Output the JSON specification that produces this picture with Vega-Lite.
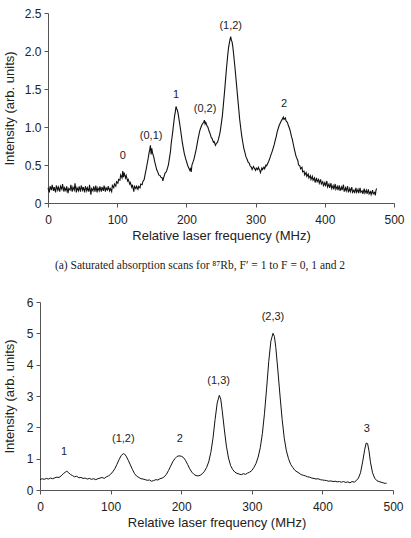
{
  "$schema": "https://vega.github.io/schema/vega-lite/v6.json",
  "padding": {"left": 3, "top": 7, "right": 5, "bottom": 5},
  "background": "white",
  "config": {
    "view": {"stroke": null},
    "axis": {
      "grid": false,
      "labelFont": "Liberation Sans",
      "labelFontSize": 12,
      "labelColor": "#222",
      "labelOverlap": false,
      "labelFlush": false,
      "titleFont": "Liberation Sans",
      "titleFontSize": 13,
      "titleFontWeight": "normal",
      "titleColor": "#222",
      "domainColor": "#555",
      "tickColor": "#555",
      "tickSize": 4,
      "tickCount": 20,
      "labelPadding": 3
    }
  },
  "datasets": {
    "top": [
      {"x":0,"y":0.20},{"x":2,"y":0.14},{"x":3,"y":0.22},{"x":5,"y":0.17},{"x":6,"y":0.24},{"x":8,"y":0.16},{"x":9,"y":0.21},{"x":11,"y":0.14},{"x":12,"y":0.23},{"x":14,"y":0.17},{"x":15,"y":0.21},{"x":17,"y":0.15},{"x":18,"y":0.22},{"x":20,"y":0.18},{"x":21,"y":0.25},{"x":23,"y":0.15},{"x":24,"y":0.20},{"x":26,"y":0.16},{"x":27,"y":0.22},{"x":29,"y":0.13},{"x":30,"y":0.19},{"x":32,"y":0.17},{"x":33,"y":0.24},{"x":35,"y":0.15},{"x":36,"y":0.21},{"x":38,"y":0.17},{"x":39,"y":0.26},{"x":41,"y":0.14},{"x":42,"y":0.20},{"x":44,"y":0.16},{"x":45,"y":0.22},{"x":47,"y":0.15},{"x":48,"y":0.23},{"x":50,"y":0.17},{"x":51,"y":0.21},{"x":53,"y":0.14},{"x":54,"y":0.22},{"x":56,"y":0.16},{"x":57,"y":0.20},{"x":59,"y":0.15},{"x":60,"y":0.24},{"x":62,"y":0.11},{"x":63,"y":0.19},{"x":65,"y":0.16},{"x":66,"y":0.22},{"x":68,"y":0.15},{"x":69,"y":0.23},{"x":71,"y":0.14},{"x":72,"y":0.20},{"x":74,"y":0.16},{"x":75,"y":0.22},{"x":77,"y":0.15},{"x":78,"y":0.21},{"x":80,"y":0.16},{"x":81,"y":0.23},{"x":83,"y":0.15},{"x":84,"y":0.20},{"x":86,"y":0.17},{"x":87,"y":0.22},{"x":89,"y":0.16},{"x":90,"y":0.19},{"x":92,"y":0.15},{"x":93,"y":0.23},{"x":95,"y":0.20},{"x":96,"y":0.25},{"x":98,"y":0.22},{"x":99,"y":0.28},{"x":101,"y":0.26},{"x":102,"y":0.31},{"x":104,"y":0.30},{"x":105,"y":0.37},{"x":107,"y":0.33},{"x":108,"y":0.42},{"x":109,"y":0.34},{"x":110,"y":0.40},{"x":112,"y":0.33},{"x":113,"y":0.36},{"x":115,"y":0.29},{"x":116,"y":0.31},{"x":118,"y":0.25},{"x":119,"y":0.27},{"x":121,"y":0.21},{"x":122,"y":0.24},{"x":124,"y":0.15},{"x":125,"y":0.22},{"x":127,"y":0.19},{"x":128,"y":0.22},{"x":130,"y":0.18},{"x":131,"y":0.22},{"x":133,"y":0.20},{"x":134,"y":0.25},{"x":136,"y":0.24},{"x":137,"y":0.28},{"x":139,"y":0.31},{"x":140,"y":0.36},{"x":142,"y":0.45},{"x":143,"y":0.50},{"x":145,"y":0.60},{"x":146,"y":0.66},{"x":147,"y":0.70},{"x":148,"y":0.76},{"x":149,"y":0.64},{"x":150,"y":0.72},{"x":151,"y":0.66},{"x":153,"y":0.60},{"x":154,"y":0.55},{"x":156,"y":0.48},{"x":157,"y":0.44},{"x":159,"y":0.40},{"x":160,"y":0.37},{"x":162,"y":0.36},{"x":163,"y":0.34},{"x":165,"y":0.33},{"x":166,"y":0.29},{"x":168,"y":0.36},{"x":169,"y":0.39},{"x":171,"y":0.41},{"x":172,"y":0.44},{"x":174,"y":0.50},{"x":175,"y":0.56},{"x":177,"y":0.68},{"x":178,"y":0.78},{"x":180,"y":0.92},{"x":181,"y":1.00},{"x":183,"y":1.15},{"x":184,"y":1.20},{"x":185,"y":1.27},{"x":186,"y":1.24},{"x":187,"y":1.22},{"x":188,"y":1.18},{"x":190,"y":1.06},{"x":191,"y":1.00},{"x":193,"y":0.87},{"x":194,"y":0.80},{"x":196,"y":0.70},{"x":197,"y":0.65},{"x":199,"y":0.58},{"x":200,"y":0.55},{"x":202,"y":0.49},{"x":203,"y":0.47},{"x":205,"y":0.43},{"x":206,"y":0.45},{"x":207,"y":0.41},{"x":208,"y":0.50},{"x":210,"y":0.55},{"x":211,"y":0.58},{"x":213,"y":0.66},{"x":214,"y":0.70},{"x":216,"y":0.80},{"x":217,"y":0.85},{"x":219,"y":0.94},{"x":220,"y":0.97},{"x":222,"y":1.02},{"x":223,"y":1.04},{"x":225,"y":1.06},{"x":226,"y":1.09},{"x":227,"y":1.04},{"x":228,"y":1.06},{"x":230,"y":1.01},{"x":231,"y":1.00},{"x":233,"y":0.94},{"x":234,"y":0.92},{"x":236,"y":0.86},{"x":237,"y":0.85},{"x":239,"y":0.80},{"x":240,"y":0.81},{"x":242,"y":0.76},{"x":243,"y":0.78},{"x":245,"y":0.80},{"x":246,"y":0.83},{"x":248,"y":0.90},{"x":249,"y":0.95},{"x":251,"y":1.08},{"x":252,"y":1.15},{"x":254,"y":1.35},{"x":255,"y":1.45},{"x":257,"y":1.67},{"x":258,"y":1.78},{"x":260,"y":1.97},{"x":261,"y":2.05},{"x":263,"y":2.15},{"x":264,"y":2.19},{"x":265,"y":2.14},{"x":266,"y":2.12},{"x":267,"y":2.06},{"x":268,"y":1.98},{"x":270,"y":1.80},{"x":271,"y":1.70},{"x":273,"y":1.50},{"x":274,"y":1.40},{"x":276,"y":1.20},{"x":277,"y":1.10},{"x":279,"y":0.95},{"x":280,"y":0.88},{"x":282,"y":0.77},{"x":283,"y":0.72},{"x":285,"y":0.65},{"x":286,"y":0.61},{"x":288,"y":0.57},{"x":289,"y":0.54},{"x":291,"y":0.52},{"x":292,"y":0.49},{"x":294,"y":0.47},{"x":295,"y":0.44},{"x":297,"y":0.48},{"x":298,"y":0.46},{"x":300,"y":0.43},{"x":301,"y":0.46},{"x":303,"y":0.44},{"x":304,"y":0.47},{"x":306,"y":0.43},{"x":307,"y":0.40},{"x":309,"y":0.46},{"x":310,"y":0.44},{"x":312,"y":0.47},{"x":313,"y":0.45},{"x":315,"y":0.50},{"x":316,"y":0.49},{"x":318,"y":0.53},{"x":319,"y":0.55},{"x":321,"y":0.60},{"x":322,"y":0.63},{"x":324,"y":0.68},{"x":325,"y":0.71},{"x":327,"y":0.77},{"x":328,"y":0.81},{"x":330,"y":0.88},{"x":331,"y":0.93},{"x":333,"y":0.99},{"x":334,"y":1.02},{"x":336,"y":1.06},{"x":337,"y":1.08},{"x":339,"y":1.11},{"x":340,"y":1.13},{"x":341,"y":1.10},{"x":343,"y":1.12},{"x":344,"y":1.08},{"x":346,"y":1.06},{"x":347,"y":1.03},{"x":349,"y":0.98},{"x":350,"y":0.95},{"x":352,"y":0.87},{"x":353,"y":0.84},{"x":355,"y":0.75},{"x":356,"y":0.71},{"x":358,"y":0.63},{"x":359,"y":0.60},{"x":361,"y":0.56},{"x":362,"y":0.50},{"x":364,"y":0.49},{"x":365,"y":0.45},{"x":367,"y":0.47},{"x":368,"y":0.41},{"x":370,"y":0.42},{"x":371,"y":0.37},{"x":373,"y":0.40},{"x":374,"y":0.35},{"x":376,"y":0.38},{"x":377,"y":0.33},{"x":379,"y":0.36},{"x":380,"y":0.31},{"x":382,"y":0.35},{"x":383,"y":0.30},{"x":385,"y":0.33},{"x":386,"y":0.27},{"x":388,"y":0.33},{"x":389,"y":0.28},{"x":391,"y":0.31},{"x":392,"y":0.26},{"x":394,"y":0.31},{"x":395,"y":0.25},{"x":397,"y":0.28},{"x":398,"y":0.23},{"x":400,"y":0.27},{"x":401,"y":0.22},{"x":403,"y":0.29},{"x":404,"y":0.21},{"x":406,"y":0.25},{"x":407,"y":0.20},{"x":409,"y":0.26},{"x":410,"y":0.19},{"x":412,"y":0.23},{"x":413,"y":0.18},{"x":415,"y":0.25},{"x":416,"y":0.18},{"x":418,"y":0.22},{"x":419,"y":0.17},{"x":421,"y":0.23},{"x":422,"y":0.16},{"x":424,"y":0.21},{"x":425,"y":0.17},{"x":427,"y":0.24},{"x":428,"y":0.15},{"x":430,"y":0.20},{"x":431,"y":0.16},{"x":433,"y":0.22},{"x":434,"y":0.14},{"x":436,"y":0.19},{"x":437,"y":0.15},{"x":439,"y":0.21},{"x":440,"y":0.14},{"x":442,"y":0.17},{"x":443,"y":0.13},{"x":445,"y":0.20},{"x":446,"y":0.14},{"x":448,"y":0.18},{"x":449,"y":0.13},{"x":451,"y":0.20},{"x":452,"y":0.14},{"x":454,"y":0.16},{"x":455,"y":0.12},{"x":457,"y":0.19},{"x":458,"y":0.13},{"x":460,"y":0.17},{"x":461,"y":0.12},{"x":463,"y":0.18},{"x":464,"y":0.12},{"x":466,"y":0.15},{"x":467,"y":0.11},{"x":469,"y":0.17},{"x":470,"y":0.12},{"x":472,"y":0.14},{"x":473,"y":0.10},{"x":474,"y":0.17},{"x":475,"y":0.19}
    ],
    "bottom": [
      {"x":0,"y":0.33},{"x":3,"y":0.36},{"x":6,"y":0.34},{"x":9,"y":0.37},{"x":12,"y":0.35},{"x":15,"y":0.38},{"x":18,"y":0.36},{"x":21,"y":0.39},{"x":24,"y":0.41},{"x":27,"y":0.40},{"x":30,"y":0.45},{"x":33,"y":0.52},{"x":36,"y":0.57},{"x":38,"y":0.60},{"x":40,"y":0.56},{"x":43,"y":0.50},{"x":46,"y":0.46},{"x":49,"y":0.42},{"x":52,"y":0.44},{"x":55,"y":0.39},{"x":58,"y":0.40},{"x":61,"y":0.37},{"x":64,"y":0.38},{"x":67,"y":0.35},{"x":70,"y":0.37},{"x":73,"y":0.34},{"x":76,"y":0.36},{"x":79,"y":0.33},{"x":82,"y":0.36},{"x":85,"y":0.38},{"x":88,"y":0.40},{"x":91,"y":0.37},{"x":94,"y":0.42},{"x":97,"y":0.45},{"x":100,"y":0.50},{"x":103,"y":0.58},{"x":106,"y":0.68},{"x":109,"y":0.82},{"x":112,"y":0.97},{"x":115,"y":1.10},{"x":118,"y":1.16},{"x":120,"y":1.14},{"x":122,"y":1.08},{"x":125,"y":0.95},{"x":128,"y":0.80},{"x":131,"y":0.65},{"x":134,"y":0.52},{"x":137,"y":0.44},{"x":140,"y":0.40},{"x":143,"y":0.36},{"x":146,"y":0.35},{"x":149,"y":0.33},{"x":152,"y":0.31},{"x":155,"y":0.32},{"x":158,"y":0.28},{"x":161,"y":0.30},{"x":164,"y":0.33},{"x":167,"y":0.32},{"x":170,"y":0.36},{"x":173,"y":0.38},{"x":176,"y":0.42},{"x":179,"y":0.50},{"x":182,"y":0.62},{"x":185,"y":0.76},{"x":188,"y":0.90},{"x":191,"y":1.00},{"x":194,"y":1.07},{"x":197,"y":1.09},{"x":200,"y":1.08},{"x":203,"y":1.04},{"x":206,"y":0.95},{"x":209,"y":0.82},{"x":212,"y":0.68},{"x":215,"y":0.57},{"x":218,"y":0.50},{"x":221,"y":0.46},{"x":224,"y":0.45},{"x":227,"y":0.47},{"x":230,"y":0.52},{"x":233,"y":0.60},{"x":236,"y":0.72},{"x":239,"y":0.90},{"x":242,"y":1.20},{"x":245,"y":1.65},{"x":248,"y":2.25},{"x":251,"y":2.78},{"x":254,"y":3.02},{"x":256,"y":2.90},{"x":258,"y":2.55},{"x":261,"y":1.95},{"x":264,"y":1.40},{"x":267,"y":1.02},{"x":270,"y":0.78},{"x":273,"y":0.65},{"x":276,"y":0.57},{"x":279,"y":0.53},{"x":282,"y":0.51},{"x":285,"y":0.49},{"x":288,"y":0.52},{"x":291,"y":0.50},{"x":294,"y":0.54},{"x":297,"y":0.57},{"x":300,"y":0.62},{"x":303,"y":0.72},{"x":306,"y":0.85},{"x":309,"y":1.05},{"x":312,"y":1.35},{"x":315,"y":1.80},{"x":318,"y":2.45},{"x":321,"y":3.25},{"x":324,"y":4.10},{"x":327,"y":4.75},{"x":330,"y":5.00},{"x":332,"y":4.90},{"x":334,"y":4.55},{"x":337,"y":3.80},{"x":340,"y":3.00},{"x":343,"y":2.25},{"x":346,"y":1.65},{"x":349,"y":1.25},{"x":352,"y":1.00},{"x":355,"y":0.82},{"x":358,"y":0.72},{"x":361,"y":0.63},{"x":364,"y":0.58},{"x":367,"y":0.54},{"x":370,"y":0.49},{"x":373,"y":0.47},{"x":376,"y":0.45},{"x":379,"y":0.42},{"x":382,"y":0.41},{"x":385,"y":0.38},{"x":388,"y":0.37},{"x":391,"y":0.35},{"x":394,"y":0.36},{"x":397,"y":0.33},{"x":400,"y":0.32},{"x":403,"y":0.31},{"x":406,"y":0.30},{"x":409,"y":0.28},{"x":412,"y":0.29},{"x":415,"y":0.27},{"x":418,"y":0.28},{"x":421,"y":0.26},{"x":424,"y":0.27},{"x":427,"y":0.25},{"x":430,"y":0.27},{"x":433,"y":0.24},{"x":436,"y":0.26},{"x":439,"y":0.23},{"x":442,"y":0.27},{"x":445,"y":0.25},{"x":448,"y":0.30},{"x":451,"y":0.38},{"x":454,"y":0.55},{"x":457,"y":0.90},{"x":460,"y":1.30},{"x":462,"y":1.50},{"x":464,"y":1.48},{"x":466,"y":1.25},{"x":468,"y":0.90},{"x":471,"y":0.55},{"x":474,"y":0.38},{"x":477,"y":0.30},{"x":480,"y":0.27},{"x":483,"y":0.25},{"x":486,"y":0.23},{"x":489,"y":0.21},{"x":491,"y":0.22}
    ],
    "topLabels": [
      {"x":108,"y":0.62,"label":"0"},
      {"x":149,"y":0.88,"label":"(0,1)"},
      {"x":185,"y":1.42,"label":"1"},
      {"x":227,"y":1.24,"label":"(0,2)"},
      {"x":264,"y":2.33,"label":"(1,2)"},
      {"x":341,"y":1.30,"label":"2"}
    ],
    "bottomLabels": [
      {"x":34,"y":1.21,"label":"1"},
      {"x":118,"y":1.63,"label":"(1,2)"},
      {"x":198,"y":1.63,"label":"2"},
      {"x":253,"y":3.48,"label":"(1,3)"},
      {"x":330,"y":5.53,"label":"(2,3)"},
      {"x":463,"y":1.95,"label":"3"}
    ]
  },
  "vconcat": [
    {
      "width": 354,
      "height": 190,
      "title": {
        "text": "(a) Saturated absorption scans for ⁸⁷Rb, F′ = 1 to F = 0, 1 and 2",
        "orient": "bottom",
        "anchor": "middle",
        "font": "Liberation Serif",
        "fontSize": 11.5,
        "fontWeight": "normal",
        "color": "#222",
        "offset": 18,
        "dx": -17
      },
      "layer": [
        {
          "data": {"name": "top"},
          "mark": {"type": "line", "color": "#111", "strokeWidth": 1.1},
          "encoding": {
            "x": {"field": "x", "type": "quantitative", "scale": {"domain": [0, 500], "range": [8, 354], "nice": false},
                  "axis": {"title": "Relative laser frequency (MHz)", "values": [0,100,200,300,400,500], "format": "d", "labelPadding": 7, "titlePadding": 4}},
            "y": {"field": "y", "type": "quantitative", "scale": {"domain": [0, 2.5], "nice": false},
                  "axis": {"title": "Intensity (arb. units)", "values": [0,0.5,1,1.5,2,2.5], "offset": -8, "labelExpr": "datum.value == 0 ? '0' : format(datum.value, '.1f')", "titlePadding": 8}}
          }
        },
        {
          "data": {"name": "topLabels"},
          "mark": {"type": "text", "font": "Liberation Sans", "fontSize": 11, "color": "#222", "baseline": "middle", "align": "center"},
          "encoding": {
            "x": {"field": "x", "type": "quantitative"},
            "y": {"field": "y", "type": "quantitative"},
            "text": {"field": "label"}
          }
        }
      ]
    },
    {
      "width": 353,
      "height": 188,
      "layer": [
        {
          "data": {"name": "bottom"},
          "mark": {"type": "line", "color": "#111", "strokeWidth": 1},
          "encoding": {
            "x": {"field": "x", "type": "quantitative", "scale": {"domain": [0, 500], "nice": false},
                  "axis": {"title": "Relative laser frequency (MHz)", "values": [0,100,200,300,400,500], "format": "d", "labelPadding": 7, "titlePadding": 4}},
            "y": {"field": "y", "type": "quantitative", "scale": {"domain": [0, 6], "nice": false},
                  "axis": {"title": "Intensity (arb. units)", "values": [0,1,2,3,4,5,6], "format": "d", "titlePadding": 10}}
          }
        },
        {
          "data": {"name": "bottomLabels"},
          "mark": {"type": "text", "font": "Liberation Sans", "fontSize": 11, "color": "#222", "baseline": "middle", "align": "center"},
          "encoding": {
            "x": {"field": "x", "type": "quantitative"},
            "y": {"field": "y", "type": "quantitative"},
            "text": {"field": "label"}
          }
        }
      ]
    }
  ],
  "spacing": 24
}
